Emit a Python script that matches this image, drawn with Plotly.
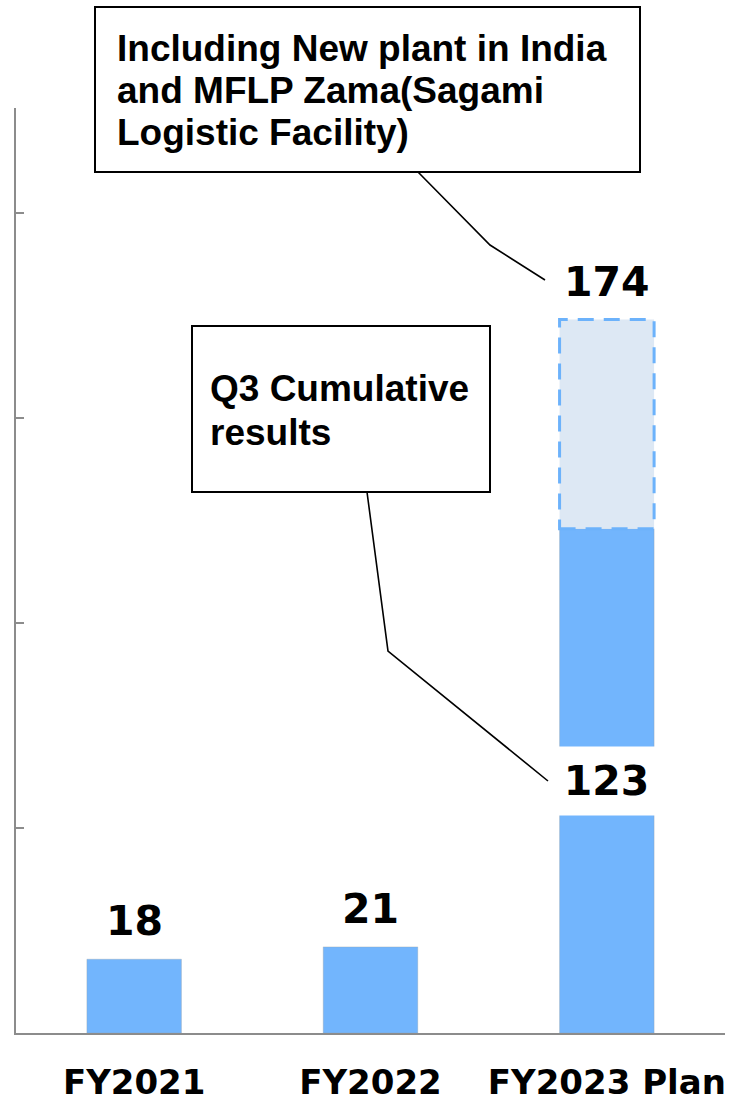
import plotly.graph_objects as go

# ---- data ----
categories = ["FY2021", "FY2022", "FY2023 Plan"]
results = [18, 21, 123]          # solid bars (results / Q3 cumulative)
plan_total = 174                  # FY2023 plan total
plan_label_cat = "FY2023 Plan"
y_ticks = [0, 50, 100, 150, 200]
note_plan = ["Including New plant in India", "and MFLP Zama(Sagami", "Logistic Facility)"]
note_q3 = ["Q3 Cumulative", "results"]

# ---- layout geometry (pixels) ----
W, H = 736, 1103
L, R, T, B = 16, 11, 108, 70
PW, PH = W - L - R, H - T - B


def px(x):
    return (x - L) / PW


def py(y):
    return (H - B - y) / PH


BAR_BLUE = "#72b5fd"
PLAN_FILL = "#dde8f4"
DASH_BLUE = "#6cb2fb"
NUM_FONT = dict(family="DejaVu Sans", size=41, color="black", weight="bold")
NOTE_FONT = dict(family="Liberation Sans, Arial", size=37, color="black", weight="bold")

fig = go.Figure()
fig.add_trace(go.Bar(
    x=categories, y=results, width=0.4,
    marker=dict(color=BAR_BLUE, line=dict(color="rgba(150,160,170,0.35)", width=1)),
    hoverinfo="skip", showlegend=False,
))
fig.add_trace(go.Bar(
    x=[plan_label_cat], y=[plan_total - results[2]], base=[results[2]], width=0.4,
    marker=dict(color=PLAN_FILL, line=dict(width=0)),
    hoverinfo="skip", showlegend=False,
))

shapes = []
# dashed outline of the plan part
ci = categories.index(plan_label_cat)
shapes.append(dict(type="rect", xref="x", yref="y", x0=ci - 0.2, x1=ci + 0.2,
                   y0=results[2], y1=plan_total,
                   line=dict(color=DASH_BLUE, width=3, dash="16px,10px"), layer="above"))

# callout boxes
shapes.append(dict(type="rect", xref="paper", yref="paper",
                   x0=px(95), x1=px(640), y0=py(172), y1=py(7),
                   line=dict(color="black", width=2), fillcolor="white"))
shapes.append(dict(type="rect", xref="paper", yref="paper",
                   x0=px(192), x1=px(490), y0=py(492), y1=py(326),
                   line=dict(color="black", width=2), fillcolor="white"))


def path(points):
    return "M " + " L ".join(f"{px(a):.5f},{py(b):.5f}" for a, b in points)


shapes.append(dict(type="path", xref="paper", yref="paper",
                   path=path([(418, 172), (490, 245), (545, 280)]),
                   line=dict(color="black", width=1.6)))
shapes.append(dict(type="path", xref="paper", yref="paper",
                   path=path([(367, 492), (388, 651), (548, 781)]),
                   line=dict(color="black", width=1.6)))

annotations = []
# value labels
for c, v in zip(categories[:2], results[:2]):
    annotations.append(dict(x=c, y=v, xref="x", yref="y", text=str(v), showarrow=False,
                            yanchor="bottom", yshift=12, font=NUM_FONT))
annotations.append(dict(x=plan_label_cat, y=plan_total, xref="x", yref="y", text=str(plan_total),
                        showarrow=False, yanchor="bottom", yshift=12, font=NUM_FONT))
annotations.append(dict(x=px(606.5), y=py(781), xref="paper", yref="paper", text=str(results[2]),
                        showarrow=False, bgcolor="white", width=97, height=66,
                        xanchor="center", yanchor="middle", font=NUM_FONT))

# notes
for i, line in enumerate(note_plan):
    annotations.append(dict(x=px(115), y=py(49 + 42 * i), xref="paper", yref="paper", text=line,
                            showarrow=False, xanchor="left", yanchor="middle", font=NOTE_FONT))
for i, line in enumerate(note_q3):
    annotations.append(dict(x=px(208), y=py(388 + 44 * i), xref="paper", yref="paper", text=line,
                            showarrow=False, xanchor="left", yanchor="middle", font=NOTE_FONT))

fig.update_layout(
    width=W, height=H, autosize=False,
    margin=dict(l=L, r=R, t=T, b=B, pad=0, autoexpand=False),
    paper_bgcolor="white", plot_bgcolor="white",
    barmode="overlay", bargap=0.6,
    shapes=shapes, annotations=annotations,
    showlegend=False,
)
fig.update_xaxes(
    type="category", range=[-0.5, 2.5], automargin=False,
    showline=True, linecolor="#8c8c8c", linewidth=2,
    ticks="", showgrid=False, zeroline=False,
    tickfont=dict(family="DejaVu Sans", size=34, color="black", weight="bold"),
    ticklabelstandoff=18,
)
fig.update_yaxes(
    range=[0, 225.6], tickvals=y_ticks, showticklabels=False, automargin=False,
    showline=True, linecolor="#8c8c8c", linewidth=2,
    ticks="inside", ticklen=8, tickwidth=2, tickcolor="#8c8c8c",
    showgrid=False, zeroline=False,
)

fig.write_html("out.html")
